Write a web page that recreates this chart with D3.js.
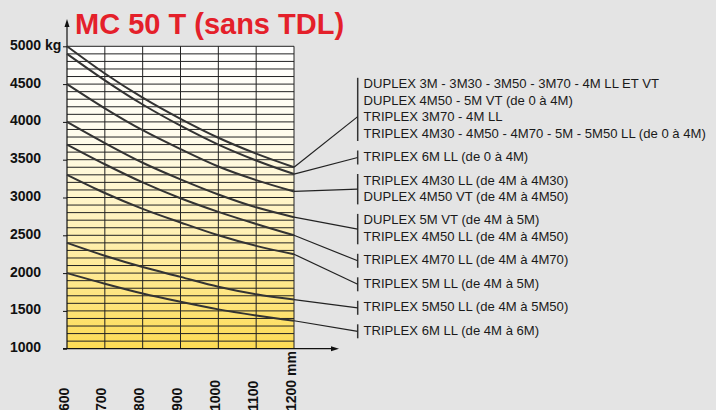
<!DOCTYPE html>
<html>
<head>
<meta charset="utf-8">
<script src="https://cdn.jsdelivr.net/npm/d3@7"></script>
<style>
  body { margin: 0; background: #e4e4e4; }
  svg { display: block; font-family: "Liberation Sans", Arial, sans-serif; }
</style>
</head>
<body>
<div id="chart"></div>
<script>
// boom length (mm) and load (kg)
const lengths = [600, 700, 800, 900, 1000, 1100, 1200];
const load1 = [5000, 4640, 4320, 4040, 3790, 3580, 3400];
const load2 = [4900, 4550, 4230, 3950, 3700, 3490, 3310];
const load3 = [4500, 4180, 3890, 3640, 3410, 3230, 3080];
const load4 = [4000, 3720, 3460, 3240, 3040, 2870, 2740];
const load5 = [3700, 3440, 3200, 2990, 2810, 2650, 2500];
const load6 = [3300, 3060, 2850, 2670, 2500, 2360, 2250];
const load7 = [2400, 2230, 2080, 1950, 1820, 1720, 1650];
const load8 = [2000, 1860, 1730, 1620, 1520, 1440, 1370];
const series = [load1, load2, load3, load4, load5, load6, load7, load8];

const xTickLabels = ["600", "700", "800", "900", "1000", "1100", "1200 mm"];
const yTickValues = [1000, 1500, 2000, 2500, 3000, 3500, 4000, 4500, 5000];
const yTickLabels = ["1000", "1500", "2000", "2500", "3000", "3500", "4000", "4500", "5000 kg"];

const legendGroups = [
    ["DUPLEX 3M - 3M30 - 3M50 - 3M70 - 4M LL ET VT",
     "DUPLEX 4M50 - 5M VT (de 0 à 4M)",
     "TRIPLEX 3M70 - 4M LL",
     "TRIPLEX 4M30 - 4M50 - 4M70 - 5M - 5M50 LL (de 0 à 4M)"],
    ["TRIPLEX 6M LL (de 0 à 4M)"],
    ["TRIPLEX 4M30 LL (de 4M à 4M30)", "DUPLEX 4M50 VT (de 4M à 4M50)"],
    ["DUPLEX 5M VT (de 4M à 5M)", "TRIPLEX 4M50 LL (de 4M à 4M50)"],
    ["TRIPLEX 4M70 LL (de 4M à 4M70)"],
    ["TRIPLEX 5M LL (de 4M à 5M)"],
    ["TRIPLEX 5M50 LL (de 4M à 5M50)"],
    ["TRIPLEX 6M LL (de 4M à 6M)"]
];

const W = 716, H = 410;
const x = d3.scaleLinear().domain([600, 1200]).range([67, 294]);
const y = d3.scaleLinear().domain([1000, 5000]).range([348.7, 46.3]);

const svg = d3.select("#chart").append("svg")
    .attr("width", W)
    .attr("height", H);

const grad = svg.append("defs").append("linearGradient")
    .attr("id", "bg")
    .attr("x1", 0).attr("y1", 0).attr("x2", 0).attr("y2", 1);
grad.append("stop").attr("offset", "0%").attr("stop-color", "#ffffff");
grad.append("stop").attr("offset", "30%").attr("stop-color", "#fffcec");
grad.append("stop").attr("offset", "60%").attr("stop-color", "#fff1b8");
grad.append("stop").attr("offset", "100%").attr("stop-color", "#fddc55");

svg.append("rect")
    .attr("x", x(600)).attr("y", y(5000))
    .attr("width", x(1200) - x(600))
    .attr("height", y(1000) - y(5000))
    .attr("fill", "url(#bg)");

// grid
svg.append("g").selectAll("line")
    .data(d3.range(1100, 5001, 100))
    .join("line")
    .attr("x1", x(600)).attr("x2", x(1200))
    .attr("y1", d => y(d)).attr("y2", d => y(d))
    .attr("stroke", "#222")
    .attr("stroke-width", 1);

svg.append("g").selectAll("line")
    .data(lengths.slice(1))
    .join("line")
    .attr("x1", d => x(d)).attr("x2", d => x(d))
    .attr("y1", y(5000)).attr("y2", y(1000))
    .attr("stroke", "#222")
    .attr("stroke-width", 1);

// axes
const yAxis = svg.append("g")
    .attr("transform", `translate(${x(600)},0)`)
    .call(d3.axisLeft(y).tickValues(yTickValues).tickSize(4).tickFormat((d, i) => yTickLabels[i]));
yAxis.select(".domain").remove();
yAxis.selectAll(".tick line").attr("stroke", "#111");
yAxis.selectAll(".tick text")
    .attr("x", -57)
    .attr("dy", "0.22em")
    .attr("text-anchor", "start")
    .attr("font-family", "Liberation Sans, Arial, sans-serif")
    .attr("font-size", 14)
    .attr("font-weight", "bold")
    .attr("fill", "#111");

svg.append("line")
    .attr("x1", x(600)).attr("x2", x(600))
    .attr("y1", y(1000)).attr("y2", 24)
    .attr("stroke", "#111").attr("stroke-width", 1.2);
svg.append("path")
    .attr("d", `M${x(600)},19 L${x(600) - 2.5},27 L${x(600) + 2.5},27 Z`)
    .attr("fill", "#111");

svg.append("line")
    .attr("x1", 63).attr("x2", 334)
    .attr("y1", y(1000)).attr("y2", y(1000))
    .attr("stroke", "#111").attr("stroke-width", 1.2);
svg.append("path")
    .attr("d", `M339,${y(1000)} L331,${y(1000) - 2.5} L331,${y(1000) + 2.5} Z`)
    .attr("fill", "#111");

svg.append("g").selectAll("text")
    .data(lengths)
    .join("text")
    .attr("transform", d => `translate(${x(d) + 1.5},411) rotate(-90)`)
    .attr("font-size", 14)
    .attr("font-weight", "bold")
    .attr("fill", "#111")
    .text((d, i) => xTickLabels[i]);

// load curves
const line = d3.line()
    .x((d, i) => x(lengths[i]))
    .y(d => y(d))
    .curve(d3.curveMonotoneX);

svg.append("g").selectAll("path")
    .data(series)
    .join("path")
    .attr("d", line)
    .attr("fill", "none")
    .attr("stroke", "#333")
    .attr("stroke-width", 2);

// title
svg.append("text")
    .attr("x", 75).attr("y", 34)
    .attr("font-size", 29)
    .attr("font-weight", "bold")
    .attr("fill", "#e4202a")
    .text("MC 50 T (sans TDL)");

// legend with brackets and leader lines
const rowH = 16.4, groupGap = 7.1, firstBase = 88.3, bracketX = 357.7;
let row = 0;
legendGroups.forEach((labels, gi) => {
    const n = labels.length;
    const bases = labels.map((l, k) => firstBase + (row + k) * rowH + gi * groupGap);
    row += n;
    const top = bases[0] - 10.5;
    const bottom = bases[n - 1] + 3.5;
    // long groups point at the third row, short ones at the middle
    const pin = n > 2 ? bases[Math.floor(n / 2)] - 4.5 : (top + bottom) / 2;
    const g = svg.append("g");

    g.append("line")
        .attr("x1", bracketX).attr("x2", bracketX)
        .attr("y1", top).attr("y2", bottom)
        .attr("stroke", "#333").attr("stroke-width", 1.5);

    g.append("line")
        .attr("x1", x(1200)).attr("y1", y(series[gi][series[gi].length - 1]))
        .attr("x2", bracketX).attr("y2", pin)
        .attr("stroke", "#222").attr("stroke-width", 1.2);

    g.selectAll("text")
        .data(labels)
        .join("text")
        .attr("x", 363.5)
        .attr("y", (d, k) => bases[k])
        .attr("font-size", 13.1)
        .attr("fill", "#1a1a1a")
        .text(d => d);
});
</script>
</body>
</html>
